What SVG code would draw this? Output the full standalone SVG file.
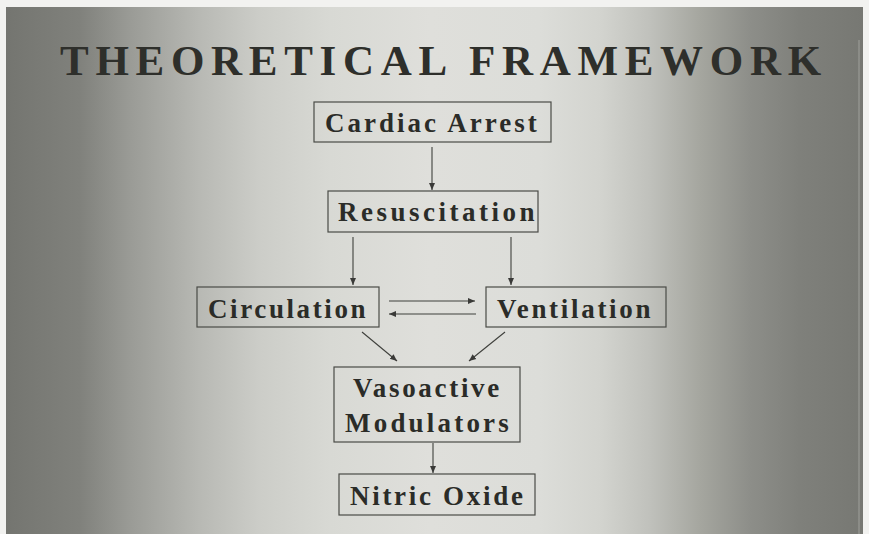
<svg xmlns="http://www.w3.org/2000/svg" width="869" height="534" viewBox="0 0 869 534">
<defs>
<linearGradient id="bg" gradientUnits="userSpaceOnUse" x1="6" y1="0" x2="863" y2="0">
<stop offset="0" stop-color="#747570"/>
<stop offset="0.086" stop-color="#80817c"/>
<stop offset="0.145" stop-color="#9a9b96"/>
<stop offset="0.226" stop-color="#b8b9b4"/>
<stop offset="0.296" stop-color="#cccdc8"/>
<stop offset="0.378" stop-color="#d8d9d4"/>
<stop offset="0.495" stop-color="#dfdfdb"/>
<stop offset="0.623" stop-color="#dcddd9"/>
<stop offset="0.693" stop-color="#d3d4cf"/>
<stop offset="0.751" stop-color="#c0c1bc"/>
<stop offset="0.810" stop-color="#a5a69f"/>
<stop offset="0.868" stop-color="#8d8e89"/>
<stop offset="0.926" stop-color="#7f807b"/>
<stop offset="1" stop-color="#777873"/>
</linearGradient>
<marker id="ah" markerWidth="8" markerHeight="8" refX="7" refY="4" orient="auto" markerUnits="userSpaceOnUse">
<path d="M0,1 L7,4 L0,7 Z" fill="#3a3a38"/>
</marker>
</defs>
<style>
.box{fill:none;stroke:#4a4b47;stroke-width:1.2}
.lbl{font-family:"Liberation Serif","Times New Roman",serif;font-weight:bold;font-size:27px;fill:#2b2c28;letter-spacing:3px}
.title{font-family:"Liberation Serif","Times New Roman",serif;font-weight:bold;font-size:43px;fill:#2e2f2b;letter-spacing:6.7px}
.conn line{stroke:#3f403c;stroke-width:1.1;marker-end:url(#ah)}
</style>
<rect x="0" y="0" width="869" height="534" fill="#f2f2f0"/>
<rect x="6" y="7" width="857" height="527" fill="url(#bg)"/>
<line x1="859" y1="40" x2="859" y2="534" stroke="#c9cac5" stroke-width="1" opacity="0.5"/>
<text class="title" x="60" y="75">THEORETICAL FRAMEWORK</text>
<g id="cardiac-arrest">
<rect class="box" x="314" y="102" width="237" height="40"/>
<text class="lbl" x="325" y="132">Cardiac Arrest</text>
</g>
<g id="resuscitation">
<rect class="box" x="328" y="191" width="210" height="41"/>
<text class="lbl" x="338" y="221" style="letter-spacing:3.5px">Resuscitation</text>
</g>
<g id="circulation">
<rect class="box" x="197" y="287" width="182" height="40"/>
<text class="lbl" x="208" y="318" style="letter-spacing:2.6px">Circulation</text>
</g>
<g id="ventilation">
<rect class="box" x="486" y="287" width="180" height="40"/>
<text class="lbl" x="497" y="318" style="letter-spacing:2.7px">Ventilation</text>
</g>
<g id="vasoactive-modulators">
<rect class="box" x="334" y="367" width="186" height="75"/>
<text class="lbl" x="353" y="397" style="letter-spacing:2.7px">Vasoactive</text>
<text class="lbl" x="345" y="432" style="letter-spacing:3.2px">Modulators</text>
</g>
<g id="nitric-oxide">
<rect class="box" x="339" y="474" width="196" height="41"/>
<text class="lbl" x="350" y="505" style="letter-spacing:2.7px">Nitric Oxide</text>
</g>
<g id="connectors" class="conn">
<line x1="432" y1="147" x2="432" y2="190"/>
<line x1="353" y1="237" x2="353" y2="285"/>
<line x1="511" y1="237" x2="511" y2="285"/>
<line x1="389" y1="301" x2="475" y2="301"/>
<line x1="476" y1="314" x2="389" y2="314"/>
<line x1="362" y1="332" x2="397" y2="361"/>
<line x1="505" y1="332" x2="469" y2="361"/>
<line x1="433" y1="443" x2="433" y2="473"/>
</g>
</svg>
